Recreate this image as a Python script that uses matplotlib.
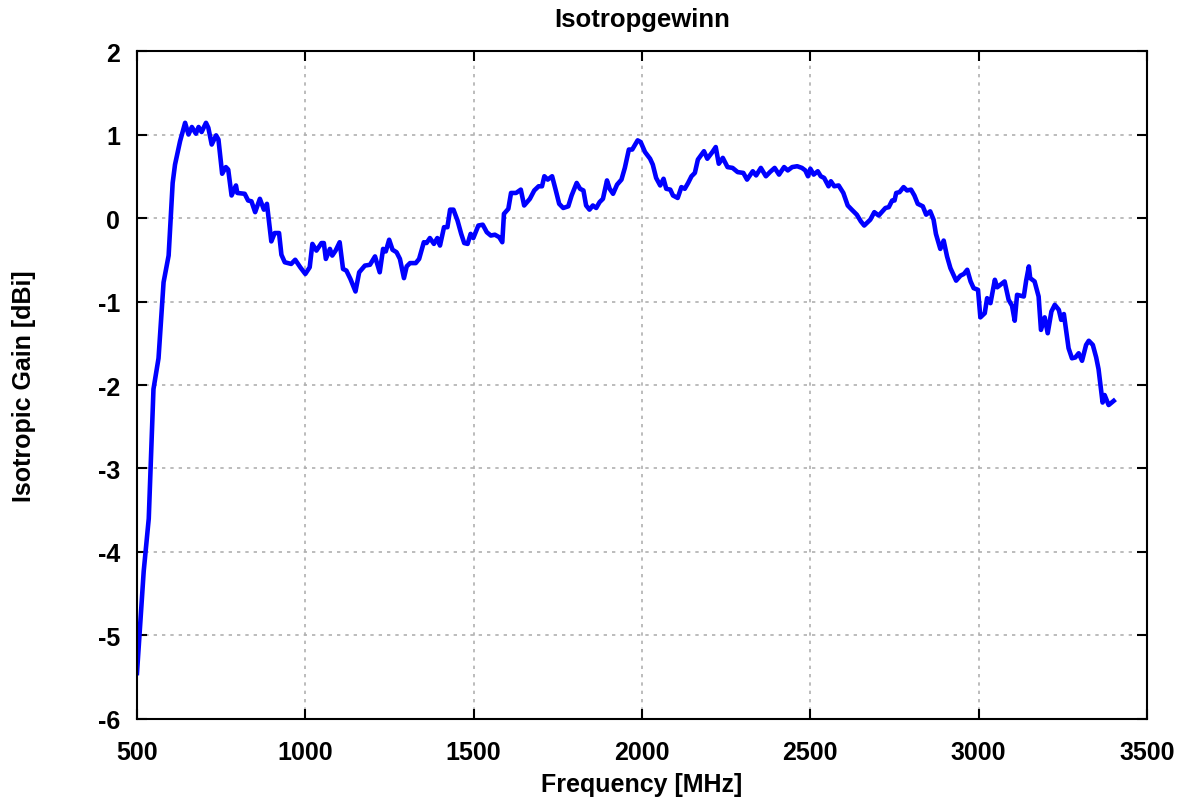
import matplotlib
matplotlib.use("Agg")
import matplotlib.pyplot as plt

# frequency (MHz) and isotropic gain (dBi)
freq = [500, 520, 535, 549, 564, 579, 594, 606, 613, 628, 643, 653, 663, 675, 683,
        692, 705, 712, 722, 735, 742, 753, 764, 771, 781, 794, 798, 820, 830, 840,
        851, 865, 877, 886, 899, 909, 922, 929, 939, 958, 970, 985, 1000, 1013, 1021,
        1033, 1048, 1055, 1061, 1073, 1080, 1090, 1102, 1112, 1122, 1134, 1149, 1160,
        1177, 1192, 1207, 1221, 1231, 1239, 1249, 1259, 1271, 1281, 1293, 1301, 1311,
        1328, 1338, 1352, 1360, 1370, 1382, 1392, 1400, 1412, 1422, 1430, 1440, 1452,
        1463, 1472, 1482, 1491, 1499, 1514, 1527, 1539, 1551, 1563, 1576, 1585, 1590,
        1603, 1611, 1626, 1640, 1650, 1667, 1680, 1693, 1703, 1710, 1720, 1733, 1744,
        1754, 1766, 1781, 1791, 1806, 1816, 1826, 1834, 1844, 1854, 1864, 1874, 1884,
        1896, 1904, 1914, 1926, 1939, 1949, 1961, 1971, 1987, 1996, 2009, 2024, 2032,
        2042, 2054, 2064, 2072, 2084, 2092, 2106, 2117, 2127, 2137, 2147, 2157, 2166,
        2184, 2194, 2209, 2219, 2228, 2240, 2254, 2269, 2284, 2301, 2312, 2329, 2339,
        2353, 2368, 2380, 2394, 2407, 2422, 2433, 2446, 2461, 2475, 2485, 2493, 2500,
        2510, 2522, 2531, 2541, 2554, 2561, 2571, 2584, 2598, 2611, 2623, 2638, 2650,
        2660, 2678, 2690, 2703, 2723, 2733, 2743, 2750, 2755, 2765, 2777, 2787, 2799,
        2809, 2819, 2834, 2844, 2856, 2866, 2873, 2886, 2896, 2906, 2916, 2933, 2946,
        2956, 2966, 2976, 2985, 2998, 3005, 3018, 3025, 3035, 3048, 3055, 3077, 3089,
        3099, 3107, 3114, 3134, 3141, 3149, 3153, 3166, 3178, 3185, 3196, 3205, 3216,
        3226, 3238, 3245, 3253, 3267, 3277, 3287, 3297, 3307, 3319, 3327, 3339, 3349,
        3356, 3368, 3374, 3386, 3401]
gain = [-5.45, -4.23, -3.6, -2.05, -1.68, -0.77, -0.45, 0.42, 0.64, 0.92, 1.14, 1.0, 1.09, 1.01, 1.09,
        1.03, 1.14, 1.08, 0.88, 0.99, 0.94, 0.53, 0.61, 0.58, 0.27, 0.39, 0.30, 0.29, 0.21, 0.20,
        0.07, 0.23, 0.10, 0.17, -0.28, -0.18, -0.18, -0.44, -0.53, -0.55, -0.50, -0.59, -0.67, -0.59, -0.31,
        -0.39, -0.30, -0.30, -0.49, -0.37, -0.45, -0.39, -0.29, -0.61, -0.63, -0.73, -0.88, -0.65,
        -0.57, -0.56, -0.46, -0.65, -0.37, -0.40, -0.26, -0.38, -0.41, -0.49, -0.72, -0.58, -0.54,
        -0.54, -0.49, -0.29, -0.30, -0.24, -0.31, -0.24, -0.33, -0.11, -0.11, 0.10, 0.10, -0.03,
        -0.19, -0.30, -0.31, -0.19, -0.24, -0.09, -0.08, -0.17, -0.21, -0.20, -0.23, -0.29, 0.05,
        0.11, 0.30, 0.30, 0.34, 0.15, 0.23, 0.33, 0.38, 0.38, 0.50, 0.46, 0.50, 0.33,
        0.17, 0.12, 0.14, 0.27, 0.42, 0.35, 0.33, 0.15, 0.10, 0.15, 0.12, 0.19, 0.23,
        0.45, 0.35, 0.29, 0.40, 0.46, 0.60, 0.82, 0.82, 0.93, 0.91, 0.79, 0.71, 0.64,
        0.48, 0.39, 0.47, 0.35, 0.34, 0.27, 0.24, 0.37, 0.35, 0.42, 0.50, 0.54, 0.70,
        0.80, 0.71, 0.79, 0.85, 0.65, 0.72, 0.61, 0.60, 0.55, 0.54, 0.46, 0.56, 0.51,
        0.60, 0.50, 0.55, 0.60, 0.52, 0.61, 0.57, 0.61, 0.62, 0.60, 0.57, 0.50, 0.59,
        0.52, 0.56, 0.50, 0.48, 0.38, 0.44, 0.38, 0.39, 0.30, 0.15, 0.10, 0.04, -0.04,
        -0.09, -0.02, 0.07, 0.03, 0.12, 0.13, 0.21, 0.21, 0.30, 0.31, 0.37, 0.33, 0.34,
        0.27, 0.17, 0.14, 0.04, 0.08, -0.02, -0.19, -0.37, -0.27, -0.46, -0.60, -0.75, -0.69,
        -0.67, -0.62, -0.76, -0.84, -0.86, -1.19, -1.14, -0.96, -1.02, -0.74, -0.83, -0.76, -0.98,
        -1.05, -1.23, -0.92, -0.94, -0.75, -0.58, -0.72, -0.76, -0.94, -1.34, -1.19, -1.38, -1.12,
        -1.04, -1.10, -1.22, -1.15, -1.56, -1.68, -1.67, -1.62, -1.71, -1.52, -1.47, -1.52, -1.67,
        -1.81, -2.21, -2.12, -2.24, -2.19]

plt.rcParams['font.family'] = ['Liberation Sans', 'DejaVu Sans']
plt.rcParams['font.weight'] = 'bold'
plt.rcParams['axes.unicode_minus'] = False

fig = plt.figure(figsize=(11.89, 8.04), dpi=100)
ax = fig.add_axes([0.1152, 0.1045, 0.8495, 0.8308])

ax.plot(freq, gain, color='#0000ff', linewidth=3.3)

ax.set_xlim(500, 3500)
ax.set_ylim(-6, 2)
ax.set_xticks(range(500, 3501, 500))
ax.set_yticks(range(-6, 3, 1))
ax.tick_params(direction='in', length=7, width=1.5, labelsize=18,
               top=True, right=True)
ax.tick_params(axis='x', pad=15)
ax.tick_params(axis='y', pad=12)
for lab in ax.get_xticklabels() + ax.get_yticklabels():
    lab.set_fontweight('bold')
for sp in ax.spines.values():
    sp.set_linewidth(1.5)

ax.grid(True, color='#b0b0b0', linestyle=(0, (2, 3)), linewidth=1.2)

ax.set_title('Isotropgewinn', fontsize=18.5, fontweight='bold', y=1.048, va='center', pad=0)
ax.set_xlabel('Frequency [MHz]', fontsize=18, fontweight='bold', va='center')
ax.xaxis.set_label_coords(0.5, -0.097)
ax.set_ylabel('Isotropic Gain [dBi]', fontsize=18, fontweight='bold', va='center')
ax.yaxis.set_label_coords(-0.112, 0.5)

fig.savefig('out.png', dpi=100)
